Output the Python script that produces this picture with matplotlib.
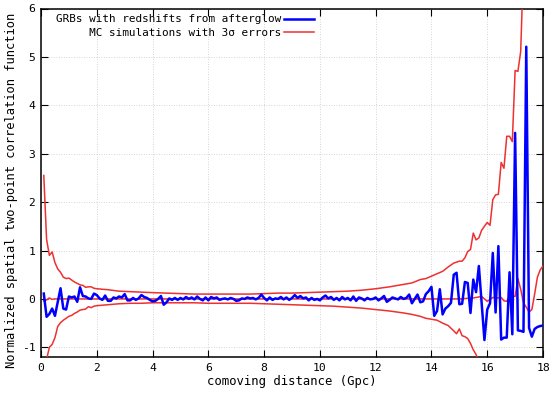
import numpy as np
import matplotlib
matplotlib.use("Agg")
import matplotlib.pyplot as plt

# ---- data ----
# comoving distance bins (Gpc), 0.1 .. 18.0
distance = np.round(np.arange(1, 181) * 0.1, 1)

grb_corr = [
    0.11, -0.37, -0.31, -0.20, -0.35, -0.06, 0.22, -0.20, -0.22, 0.05,
    0.03, 0.05, -0.06, 0.24, 0.06, 0.05, 0.01, 0.00, 0.11, 0.08,
    0.01, -0.02, 0.07, -0.04, -0.04, 0.03, 0.01, 0.05, 0.03, 0.10,
    -0.03, -0.03, 0.02, -0.02, 0.01, 0.08, 0.04, 0.02, -0.02, -0.05,
    -0.04, 0.00, 0.06, -0.12, -0.07, 0.01, -0.02, 0.02, -0.02, 0.02,
    -0.01, 0.04, 0.00, 0.03, -0.01, 0.05, 0.00, -0.03, 0.03, -0.03,
    0.04, 0.01, 0.03, -0.02, 0.00, 0.01, -0.01, 0.02, 0.00, -0.04,
    -0.03, 0.01, 0.00, 0.03, 0.01, 0.02, -0.01, 0.02, 0.09, 0.02,
    -0.03, 0.03, -0.02, 0.01, 0.00, 0.04, -0.01, 0.03, -0.02, 0.02,
    0.08, 0.02, 0.06, 0.01, 0.03, -0.03, 0.02, -0.02, 0.00, -0.03,
    0.03, 0.07, 0.01, 0.04, -0.02, 0.02, -0.03, 0.04, -0.01, 0.02,
    -0.03, 0.05, -0.04, 0.03, 0.01, -0.03, 0.02, -0.01, 0.00, 0.03,
    -0.03, 0.01, 0.06, -0.06, -0.02, 0.03, 0.01, -0.01, 0.04, 0.00,
    0.02, 0.09, -0.09, 0.00, 0.09, -0.07, -0.05, 0.10, 0.16, 0.25,
    -0.35, -0.25, 0.20, -0.32, -0.20, -0.15, -0.08, 0.50, 0.54, -0.11,
    -0.10, 0.35, 0.33, -0.29, 0.40, 0.14, 0.68, -0.08, -0.85, -0.22,
    -0.09, 0.95, -0.28, 1.09, -0.84, -0.80, -0.80, 0.55, -0.73, 3.43,
    -0.65, -0.66, -0.68, 5.21, -0.60, -0.78, -0.62, -0.58, -0.56, -0.55,
]

# MC simulation upper 3-sigma envelope
upper_x = [0.1, 0.2, 0.3, 0.4, 0.5, 0.6, 0.7, 0.8, 0.9, 1.0,
           1.1, 1.2, 1.3, 1.4, 1.5, 1.6, 1.7, 1.8, 1.9, 2.0,
           2.4, 2.8, 3.2, 3.6, 4.0, 4.5, 5.0, 5.5, 6.0, 6.5,
           7.0, 7.5, 8.0, 8.5, 9.0, 9.5, 10.0, 10.5, 11.0, 11.5,
           12.0, 12.5, 13.0, 13.3, 13.6, 13.8, 14.0, 14.2, 14.4, 14.6,
           14.8, 15.0, 15.1, 15.2, 15.3, 15.4, 15.5, 15.6, 15.7, 15.8,
           15.9, 16.0, 16.1, 16.2, 16.3, 16.4, 16.5, 16.6, 16.7, 16.8,
           16.9, 17.0, 17.1, 17.2, 17.3]
upper_y = [2.55, 1.23, 0.90, 0.97, 0.75, 0.62, 0.55, 0.45, 0.42, 0.43,
           0.39, 0.35, 0.32, 0.29, 0.28, 0.24, 0.25, 0.25, 0.22, 0.21,
           0.19, 0.16, 0.15, 0.14, 0.13, 0.12, 0.11, 0.10, 0.10, 0.10,
           0.10, 0.10, 0.11, 0.12, 0.12, 0.13, 0.14, 0.15, 0.16, 0.18,
           0.21, 0.25, 0.30, 0.33, 0.40, 0.42, 0.47, 0.52, 0.57, 0.66,
           0.74, 0.78, 0.78, 0.85, 0.98, 1.02, 1.36, 1.22, 1.26, 1.42,
           1.50, 1.58, 1.52, 2.05, 2.15, 2.16, 2.82, 2.70, 3.36, 3.36,
           3.25, 4.72, 4.70, 5.11, 6.90]

# MC simulation lower 3-sigma envelope
lower_x = [0.1, 0.2, 0.3, 0.4, 0.5, 0.6, 0.7, 0.8, 0.9, 1.0,
           1.1, 1.2, 1.3, 1.4, 1.5, 1.6, 1.7, 1.8, 1.9, 2.0,
           2.4, 2.8, 3.2, 3.6, 4.0, 4.5, 5.0, 5.5, 6.0, 6.5,
           7.0, 7.5, 8.0, 8.5, 9.0, 9.5, 10.0, 10.5, 11.0, 11.5,
           12.0, 12.5, 13.0, 13.3, 13.6, 13.8, 14.0, 14.2, 14.4, 14.6,
           14.8, 14.9, 15.0, 15.1, 15.2, 15.3, 15.4, 15.5, 15.6, 15.7,
           15.8]
lower_y = [-2.55, -1.25, -1.00, -0.94, -0.80, -0.57, -0.49, -0.44, -0.40, -0.36,
           -0.34, -0.30, -0.27, -0.23, -0.22, -0.21, -0.16, -0.18, -0.15, -0.14,
           -0.12, -0.10, -0.09, -0.09, -0.08, -0.08, -0.08, -0.08, -0.09, -0.09,
           -0.09, -0.09, -0.10, -0.11, -0.12, -0.13, -0.14, -0.15, -0.17, -0.19,
           -0.22, -0.25, -0.29, -0.32, -0.36, -0.40, -0.42, -0.44, -0.50, -0.55,
           -0.66, -0.72, -0.62, -0.76, -0.78, -0.82, -0.92, -1.05, -1.15, -1.30,
           -1.45]

# MC simulation mean
mean_x = [0.1, 0.2, 0.3, 0.4, 0.5, 1.0, 2.0, 4.0, 6.0, 8.0, 10.0, 12.0, 14.0,
          15.0, 15.5, 15.8, 16.0, 16.2, 16.4, 16.5, 16.6, 16.7, 16.8, 16.9,
          17.0, 17.1, 17.2, 17.3, 17.4, 17.5, 17.6, 17.7, 17.8, 17.9, 18.0]
mean_y = [-0.04, -0.02, 0.02, -0.01, 0.00, 0.00, 0.00, 0.00, 0.00, 0.00, 0.00, 0.00, 0.00,
          0.00, 0.02, 0.05, -0.05, 0.03, 0.02, 0.03, -0.04, -0.05, 0.05, 0.06,
          0.05, 0.42, 0.20, -0.08, -0.17, -0.27, -0.22, 0.10, 0.45, 0.60, 0.68]

xticks = [0, 2, 4, 6, 8, 10, 12, 14, 16, 18]
yticks = [-1, 0, 1, 2, 3, 4, 5, 6]

# ---- figure ----
W, H = 550, 394
fig = plt.figure(figsize=(W / 100, H / 100), dpi=100)
ax = fig.add_axes([41 / W, 1 - 357 / H, (543 - 41) / W, (357 - 8.5) / H])

font = "DejaVu Sans Mono"
red = "#ee3030"
blue = "#0000ff"

l1, = ax.plot(distance, grb_corr, color=blue, lw=1.8, zorder=4)
l2, = ax.plot(upper_x, upper_y, color=red, lw=1.1, zorder=3)
ax.plot(lower_x, lower_y, color=red, lw=1.1, zorder=3)
ax.plot(mean_x, mean_y, color=red, lw=1.1, zorder=3)

ax.set_xlim(0, 18)
ax.set_ylim(-1.2, 6)
ax.set_xticks(xticks)
ax.set_yticks(yticks)
ax.set_xticklabels([str(t) for t in xticks], fontfamily=font, fontsize=8.2)
ax.set_yticklabels([str(t) for t in yticks], fontfamily=font, fontsize=8.2)
ax.tick_params(direction="in", length=5, width=0.8, top=True, right=True,
               pad=4)
ax.grid(True, linestyle=(0, (1, 2)), color="#c8c8c8", lw=0.6)
for s in ax.spines.values():
    s.set_linewidth(1.1)

ax.set_xlabel("comoving distance (Gpc)", fontfamily=font, fontsize=8.8, labelpad=2)
ax.set_ylabel("Normalized spatial two-point correlation function",
              fontfamily=font, fontsize=8.7)
ax.yaxis.set_label_coords(-0.046, 0.478)

labels = ["GRBs with redshifts from afterglow",
          "     MC simulations with 3σ errors"]
leg = ax.legend([l1, l2], labels, loc="upper right",
                bbox_to_anchor=(314 / W, 1 - 14.5 / H), bbox_transform=fig.transFigure,
                frameon=False, markerfirst=False, borderpad=0, borderaxespad=0,
                handlelength=2.7, handletextpad=0.3, labelspacing=0.3,
                prop={"family": font, "size": 7.9})

fig.savefig("out.png", dpi=100)
